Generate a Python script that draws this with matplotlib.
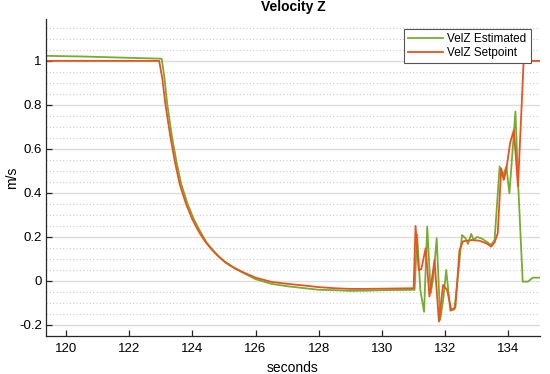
import numpy as np
import matplotlib
matplotlib.use("Agg")
import matplotlib.pyplot as plt
from matplotlib.ticker import MultipleLocator

plt.rcParams['font.family'] = ['Liberation Sans', 'DejaVu Sans']

# setpoint trace (seconds, m/s)
sp_t = [119.37, 122.95, 123.05, 123.15, 123.3, 123.45, 123.6, 123.8, 124.0, 124.2,
        124.4, 124.6, 124.8, 125.0, 125.3, 125.6, 126.0, 126.5, 127.0, 127.5,
        128.0, 128.5, 129.0, 129.5, 130.0, 130.5, 131.0, 131.06, 131.16, 131.24,
        131.38, 131.5, 131.66, 131.8, 131.93, 132.06, 132.19, 132.32, 132.45, 132.56,
        132.82, 133.08, 133.3, 133.45, 133.56, 133.66, 133.77, 133.85, 133.93, 134.05,
        134.17, 134.3, 134.48, 135.0]
sp_v = [1.0, 1.0, 0.92, 0.80, 0.66, 0.54, 0.44, 0.35, 0.28, 0.225,
        0.18, 0.145, 0.115, 0.09, 0.062, 0.04, 0.015, -0.004, -0.013, -0.02,
        -0.028, -0.033, -0.036, -0.036, -0.035, -0.034, -0.033, 0.25, 0.05, 0.053,
        0.149, -0.071, 0.095, -0.185, -0.018, -0.041, -0.132, -0.12, 0.14, 0.18,
        0.186, 0.183, 0.171, 0.156, 0.175, 0.217, 0.512, 0.459, 0.505, 0.626,
        0.686, 0.429, 1.0, 1.0]

# estimated trace
es_t = [119.37, 120.5, 121.5, 122.5, 123.03, 123.12, 123.2, 123.35, 123.5, 123.65,
        123.85, 124.05, 124.25, 124.45, 124.65, 124.85, 125.05, 125.35, 125.65, 126.0,
        126.5, 127.0, 127.5, 128.0, 128.5, 129.0, 129.5, 130.0, 130.5, 131.03,
        131.11, 131.21, 131.33, 131.43, 131.54, 131.62, 131.73, 131.84, 131.94, 132.03,
        132.16, 132.29, 132.40, 132.53, 132.64, 132.72, 132.82, 132.9, 133.0, 133.14,
        133.3, 133.45, 133.56, 133.72, 133.82, 133.93, 134.03, 134.22, 134.3, 134.45,
        134.61, 134.77, 135.0]
es_v = [1.023, 1.02, 1.016, 1.012, 1.01, 0.92, 0.81, 0.66, 0.54, 0.44,
        0.35, 0.28, 0.225, 0.175, 0.14, 0.11, 0.083, 0.056, 0.034, 0.008,
        -0.013, -0.024, -0.032, -0.04, -0.042, -0.045, -0.044, -0.042, -0.041, -0.04,
        0.21, -0.04, -0.14, 0.247, -0.056, 0.012, 0.194, -0.177, -0.079, 0.05,
        -0.135, -0.129, 0.02, 0.209, 0.194, 0.168, 0.214, 0.186, 0.2, 0.194,
        0.179, 0.164, 0.186, 0.52, 0.474, 0.52, 0.398, 0.77, 0.459, -0.003,
        -0.003, 0.015, 0.015]

fig = plt.figure(figsize=(5.5, 3.74), dpi=100)
ax = fig.add_axes([0.0836, 0.1016, 0.8984, 0.8474])

ax.plot(es_t, es_v, color='#77AC30', lw=1.3, label='VelZ Estimated')
ax.plot(sp_t, sp_v, color='#E8531E', lw=1.3, label='VelZ Setpoint')

ax.set_xlim(119.37, 135.0)
ax.set_ylim(-0.25, 1.19)
ax.xaxis.set_major_locator(MultipleLocator(2))
ax.yaxis.set_minor_locator(MultipleLocator(0.05))
ax.set_yticks([-0.2, 0, 0.2, 0.4, 0.6, 0.8, 1])
ax.set_yticklabels(['-0.2', '0', '0.2', '0.4', '0.6', '0.8', '1'])

ax.grid(True, axis='y', which='major', color='#dcdcdc', lw=1.0)
ax.grid(True, axis='y', which='minor', color='#cccccc', lw=0.8, linestyle=(0, (1, 2)))
ax.set_axisbelow(True)

for s in ['top', 'right']:
    ax.spines[s].set_visible(False)
for s in ['left', 'bottom']:
    ax.spines[s].set_color('#262626')
    ax.spines[s].set_linewidth(0.9)

ax.tick_params(which='major', direction='in', length=4, width=0.9, labelsize=9.5,
               colors='#262626', labelcolor='black', pad=3)
ax.tick_params(axis='x', pad=5)
ax.tick_params(which='minor', length=0)

ax.set_title('Velocity Z', fontsize=10, fontweight='bold', pad=6)
ax.set_xlabel('seconds', fontsize=10, labelpad=4)
ax.set_ylabel('m/s', fontsize=10)
ax.yaxis.set_label_coords(-0.055, 0.5)

leg = ax.legend(loc='upper right', fontsize=8.5, fancybox=False, framealpha=1,
                edgecolor='#555555', handlelength=2.9, borderpad=0.35,
                labelspacing=0.2, handletextpad=0.4, borderaxespad=0.8)
leg.get_frame().set_linewidth(0.8)

fig.savefig('out.png', dpi=100)
